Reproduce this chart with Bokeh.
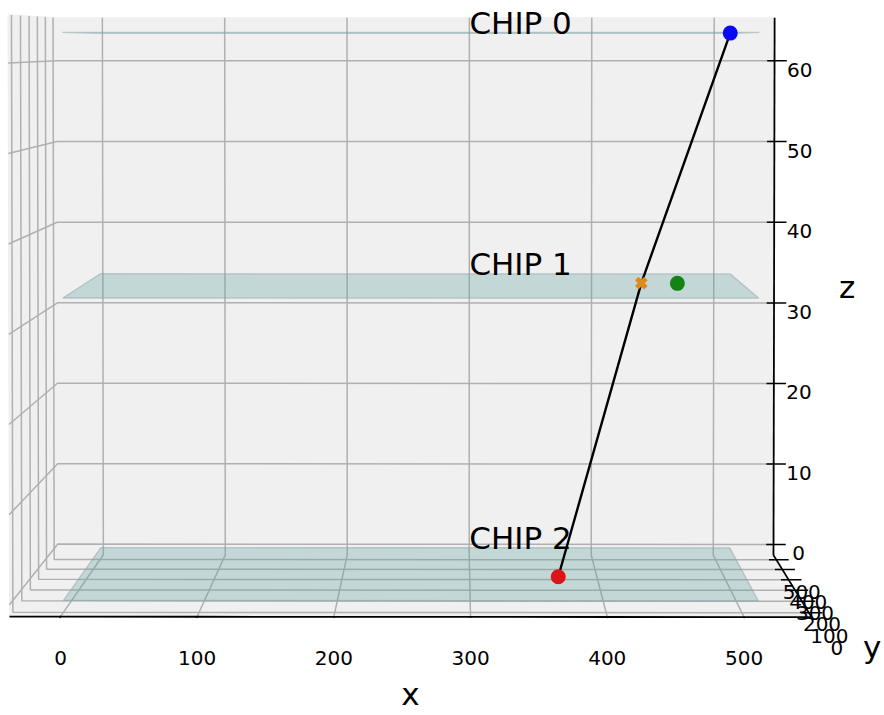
import numpy as np
from bokeh.plotting import figure
from bokeh.models import Range1d
from bokeh.core.properties import value
from bokeh.embed import file_html
from bokeh.resources import INLINE

# ---- chip stack ---------------------------------------------------------
chip_labels = ["CHIP 0", "CHIP 1", "CHIP 2"]
chip_z = [63.4, 33.8, 0.0]
chip_x_span = [0.0, 512.0]
chip_y_span = [0.0, 512.0]
label_x = 300.0
label_y = 512.0

# ---- reconstructed track: CHIP 2 -> CHIP 1 -> CHIP 0 ---------------------
track_x = [368.0, 434.0, 507.0]
track_y = [219.0, 305.0, 400.0]
track_z = [0.0, 33.8, 63.4]

# measured hit on CHIP 1
hit_x = [462.0]
hit_y = [300.0]
hit_z = [33.8]

# ---- axes ---------------------------------------------------------------
x_ticks = [0, 100, 200, 300, 400, 500]
y_ticks = [0, 100, 200, 300, 400, 500]
z_ticks = [0, 10, 20, 30, 40, 50, 60]
x_lim = (-25.6, 537.6)
y_lim = (-25.6, 537.6)
z_lim = (0.0, 64.0)

# ---- camera (perspective, looking along +y, slightly from above) ---------
ELEV, AZIM, DIST = 2.23, -89.61, 10.0
W, H = 884, 715
SCALE = 6630.0          # pixels per projected unit
CX, CY = 412.6, 300.2   # pixel position of the box centre

box = np.array([4.0, 4.0, 3.0])
box = box * 1.8294640721620434 / np.linalg.norm(box)


def pad(lim):
    m = (lim[1] - lim[0]) / 48.0
    return (lim[0] - m, lim[1] + m)


XB, YB, ZB = pad(x_lim), pad(y_lim), pad(z_lim)
e, a = np.radians(ELEV), np.radians(AZIM)
nvec = np.array([np.cos(e) * np.cos(a), np.cos(e) * np.sin(a), np.sin(e)])
eye = box / 2 + DIST * nvec
uvec = np.cross([0.0, 0.0, 1.0], nvec)
uvec /= np.linalg.norm(uvec)
vvec = np.cross(nvec, uvec)


def proj(x, y, z):
    x, y, z = np.broadcast_arrays(np.asarray(x, float), np.asarray(y, float),
                                  np.asarray(z, float))
    pts = np.stack([(x - XB[0]) / (XB[1] - XB[0]) * box[0],
                    (y - YB[0]) / (YB[1] - YB[0]) * box[1],
                    (z - ZB[0]) / (ZB[1] - ZB[0]) * box[2]], axis=-1)
    d = pts - eye
    w = -(d @ nvec)
    return (d @ uvec) / w, (d @ vvec) / w


def proj_list(x, y, z):
    px, py = proj(x, y, z)
    return [float(v) for v in np.atleast_1d(px)], [float(v) for v in np.atleast_1d(py)]


p = figure(width=W, height=H,
           x_range=Range1d(-CX / SCALE, (W - CX) / SCALE),
           y_range=Range1d(-(H - CY) / SCALE, CY / SCALE),
           x_axis_location=None, y_axis_location=None,
           toolbar_location=None, output_backend="svg",
           min_border=0, outline_line_color=None,
           background_fill_color="white", border_fill_color="white")
p.grid.visible = False

x0, x1 = XB
y0, y1 = YB
z0, z1 = ZB

# ---- panes ----------------------------------------------------------------
pane_defs = [
    ([x0, x0, x0, x0], [y0, y1, y1, y0], [z0, z0, z1, z1]),   # left wall
    ([x0, x1, x1, x0], [y1, y1, y1, y1], [z0, z0, z1, z1]),   # back wall
    ([x0, x1, x1, x0], [y0, y0, y1, y1], [z0, z0, z0, z0]),   # floor
]
pxs, pys = [], []
for gx, gy, gz in pane_defs:
    a_, b_ = proj_list(gx, gy, gz)
    pxs.append(a_)
    pys.append(b_)
p.patches(pxs, pys, fill_color="#f0f0f0", line_color="#f0f0f0", line_width=1)

# ---- grid lines -------------------------------------------------------------
gxs, gys = [], []
for t in x_ticks:
    a_, b_ = proj_list([t, t, t], [y0, y1, y1], [z0, z0, z1])
    gxs.append(a_); gys.append(b_)
for t in y_ticks:
    a_, b_ = proj_list([x1, x0, x0], [t, t, t], [z0, z0, z1])
    gxs.append(a_); gys.append(b_)
for t in z_ticks:
    a_, b_ = proj_list([x1, x0, x0], [y1, y1, y0], [t, t, t])
    gxs.append(a_); gys.append(b_)
p.multi_line(gxs, gys, line_color="#b0b0b0", line_width=1.5)

# ---- chip planes ------------------------------------------------------------
cxs, cys = [], []
cx0, cx1 = chip_x_span
cy0, cy1 = chip_y_span
for zc in chip_z:
    a_, b_ = proj_list([cx0, cx1, cx1, cx0], [cy0, cy0, cy1, cy1], zc)
    cxs.append(a_); cys.append(b_)
p.patches(cxs, cys, fill_color="#5f9ea0", fill_alpha=0.3,
          line_color="#8aa4a5", line_alpha=0.5, line_width=1.3)

# ---- axis lines and ticks ------------------------------------------------
# x axis drawn piecewise between its ticks, then the y and z axes
x_edge = [x0] + list(x_ticks) + [x1]
axs, ays = [], []
for s0, s1 in zip(x_edge[:-1], x_edge[1:]):
    a_, b_ = proj_list([s0, s1], [y0, y0], [z0, z0])
    axs.append(a_); ays.append(b_)
for seg in [([x1, x1], [y0, y1], [z0, z0]),
            ([x1, x1], [y1, y1], [z0, z1])]:
    a_, b_ = proj_list(*seg)
    axs.append(a_); ays.append(b_)
p.multi_line(axs, ays, line_color="black", line_width=1.8)

kxs, kys = [], []
for t in x_ticks:
    a_, b_ = proj_list([t, t], [y0 - 9, y0 + 6], [z0, z0])
    kxs.append(a_); kys.append(b_)
for t in y_ticks:
    a_, b_ = proj_list([x1 - 6, x1 + 10], [t, t], [z0, z0])
    kxs.append(a_); kys.append(b_)
for t in z_ticks:
    a_, b_ = proj_list([x1 - 6, x1 + 10], [y1, y1], [t, t])
    kxs.append(a_); kys.append(b_)
p.multi_line(kxs, kys, line_color="black", line_width=1.5)

FONT = value("DejaVu Sans")
TICK_SIZE = "20px"
LABEL_SIZE = "31px"

tx, ty = proj_list(x_ticks, y0, -5.9)
p.text(tx, ty, text=[str(t) for t in x_ticks], text_font=FONT,
       text_font_size=TICK_SIZE, text_align="center", text_baseline="middle",
       text_color="black")
tx, ty = proj_list(570.0, y_ticks, -5.3)
p.text(tx, ty, text=[str(t) for t in y_ticks], text_font=FONT,
       text_font_size=TICK_SIZE, text_align="center", text_baseline="middle",
       text_color="black")
tx, ty = proj_list(570.0, y1, np.array(z_ticks) - 1.1)
p.text(tx, ty, text=[str(t) for t in z_ticks], text_font=FONT,
       text_font_size=TICK_SIZE, text_align="center", text_baseline="middle",
       text_color="black")

for name, (lx, ly, lz) in {"x": (256.0, y0, -9.9),
                           "y": (612.0, 256.0, -8.7),
                           "z": (609.0, y1, 32.0)}.items():
    tx, ty = proj_list(lx, ly, lz)
    p.text(tx, ty, text=[name], text_font=FONT, text_font_size=LABEL_SIZE,
           text_align="center", text_baseline="middle", text_color="black")

# chip labels, floated just above the back edge of each plane
tx, ty = proj_list(label_x, label_y, np.array(chip_z) + 1.25)
p.text(tx, ty, text=chip_labels, text_font=FONT, text_font_size=LABEL_SIZE,
       text_align="left", text_baseline="middle", text_color="black")

# ---- track and hits -----------------------------------------------------------
tx, ty = proj_list(track_x, track_y, track_z)
p.line(tx, ty, line_color="black", line_width=2.4)
p.scatter([tx[0]], [ty[0]], marker="circle", size=15, fill_color="#dc1419",
          line_color=None)
p.scatter([tx[2]], [ty[2]], marker="circle", size=15, fill_color="#0a0af0",
          line_color=None)
p.scatter([tx[1]], [ty[1]], marker="x", size=13, line_color="#dd8a1e",
          line_width=5)
hx, hy = proj_list(hit_x, hit_y, hit_z)
p.scatter(hx, hy, marker="circle", size=15, fill_color="#148214", line_color=None)

open("out.html", "w").write(file_html(p, INLINE))
